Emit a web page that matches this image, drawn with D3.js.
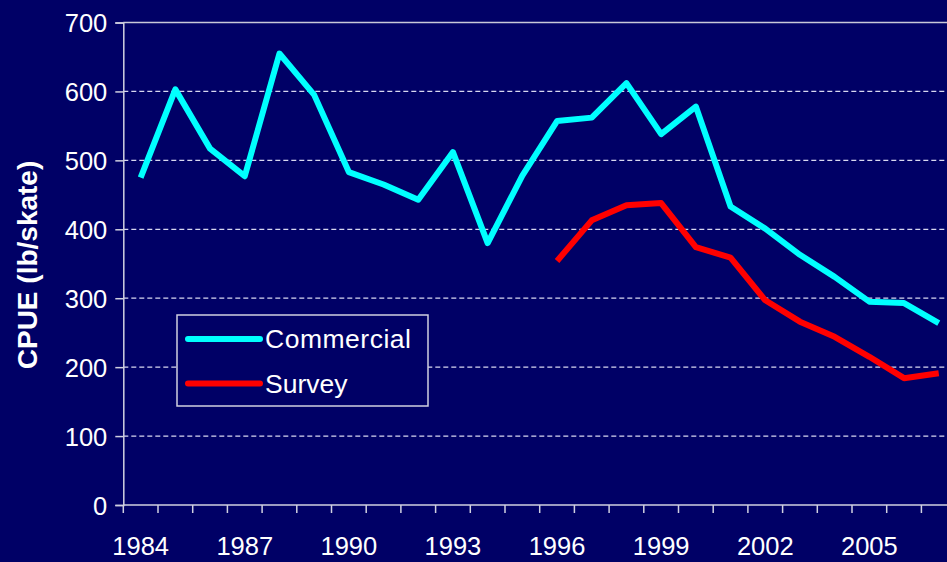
<!DOCTYPE html>
<html>
<head>
<meta charset="utf-8">
<script src="https://cdn.jsdelivr.net/npm/d3@7/dist/d3.min.js"></script>
<style>
html,body{margin:0;padding:0;background:#000066;overflow:hidden;}
svg{display:block;}
text{font-family:"Liberation Sans",Arial,sans-serif;}
</style>
</head>
<body>
<script>
const years = d3.range(1984, 2008);
const commercial = [475,603,517,477,655,595,483,465,443,512,380,478,557,562,612,538,578,433,401,363,331,295,293,264];
const surveyYears = [1996,1997,1998,1999,2000,2001,2002,2003,2004,2005,2006,2007];
const survey = [354,413,435,438,374,359,297,266,244,215,184,191];
const yTicks = [0,100,200,300,400,500,600,700];
const xLabels = [1984,1987,1990,1993,1996,1999,2002,2005];
const seriesNames = ["Commercial","Survey"];
const seriesColors = ["#00ffff","#ff0000"];

const W = 947, H = 562;
const mLeft = 123.3, mRight = 956.1, mTop = 22.5, mBottom = 505;

const svg = d3.select("body").append("svg").attr("width", W).attr("height", H);
svg.append("rect").attr("width", W).attr("height", H).attr("fill", "#000066");

const x = d3.scaleBand().domain(years).range([mLeft, mRight]);
const y = d3.scaleLinear().domain([0, 700]).range([mBottom, mTop]);
const cx = d => x(d) + x.bandwidth() / 2;

// gridlines
svg.append("g").selectAll("line").data(yTicks.filter(t => t > 0 && t < 700)).join("line")
  .attr("x1", mLeft).attr("x2", W).attr("y1", d => y(d)).attr("y2", d => y(d))
  .attr("stroke", "#d8d8f0").attr("stroke-width", 1.3).attr("stroke-dasharray", "5,3");

// top border
svg.append("line").attr("x1", mLeft).attr("x2", W).attr("y1", y(700)).attr("y2", y(700))
  .attr("stroke", "#c8c8d8").attr("stroke-width", 1.5);

// y axis
const yAxis = d3.axisLeft(y).tickValues(yTicks).tickSize(8).tickPadding(8);
const gy = svg.append("g").attr("transform", `translate(${mLeft},0)`).call(yAxis);
gy.select(".domain").attr("stroke", "#d0d0e0").attr("stroke-width", 1.5);
gy.selectAll(".tick line").attr("stroke", "#d0d0e0").attr("stroke-width", 1.5);
gy.selectAll(".tick text").attr("fill", "#ffffff").attr("font-size", 25.5)
  .attr("font-family", "Liberation Sans, Arial, sans-serif").attr("dy", "0.36em");

// x axis
const xAxisScale = d3.scaleLinear().domain([0, years.length]).range([mLeft, mRight]);
const xTickG = svg.append("g");
xTickG.append("line").attr("x1", mLeft).attr("x2", W).attr("y1", mBottom).attr("y2", mBottom)
  .attr("stroke", "#d0d0e0").attr("stroke-width", 1.5);
xTickG.selectAll("line.t").data(d3.range(0, years.length + 1)).join("line").attr("class", "t")
  .attr("x1", d => xAxisScale(d)).attr("x2", d => xAxisScale(d))
  .attr("y1", mBottom).attr("y2", mBottom + 8)
  .attr("stroke", "#d0d0e0").attr("stroke-width", 1.5);
xTickG.selectAll("text").data(xLabels).join("text")
  .attr("x", d => cx(d)).attr("y", 555)
  .attr("text-anchor", "middle").attr("fill", "#ffffff").attr("font-size", 25.5)
  .text(d => d);

// lines
const line = d3.line().x(d => cx(d[0])).y(d => y(d[1]));
svg.append("path").datum(years.map((yr, i) => [yr, commercial[i]]))
  .attr("d", line).attr("fill", "none").attr("stroke", seriesColors[0])
  .attr("stroke-width", 6).attr("stroke-linejoin", "round").attr("stroke-linecap", "butt");
svg.append("path").datum(surveyYears.map((yr, i) => [yr, survey[i]]))
  .attr("d", line).attr("fill", "none").attr("stroke", seriesColors[1])
  .attr("stroke-width", 6).attr("stroke-linejoin", "round").attr("stroke-linecap", "butt");

// y title
svg.append("text").attr("transform", "translate(37,265) rotate(-90)")
  .attr("text-anchor", "middle").attr("fill", "#ffffff").attr("font-size", 28)
  .attr("font-weight", "bold").text("CPUE (lb/skate)");

// legend
const lg = svg.append("g");
lg.append("rect").attr("x", 177).attr("y", 315).attr("width", 251).attr("height", 91)
  .attr("fill", "#000066").attr("stroke", "#d0d0e0").attr("stroke-width", 1.5);
seriesNames.forEach((n, i) => {
  const yy = 339 + i * 44.5;
  lg.append("line").attr("x1", 188).attr("x2", 260).attr("y1", yy).attr("y2", yy)
    .attr("stroke", seriesColors[i]).attr("stroke-width", 6).attr("stroke-linecap", "round");
  lg.append("text").attr("x", 265).attr("y", yy + 9).attr("fill", "#ffffff")
    .attr("font-size", 26.5).attr("textLength", i === 0 ? 146 : null).text(n);
});
</script>
</body>
</html>
